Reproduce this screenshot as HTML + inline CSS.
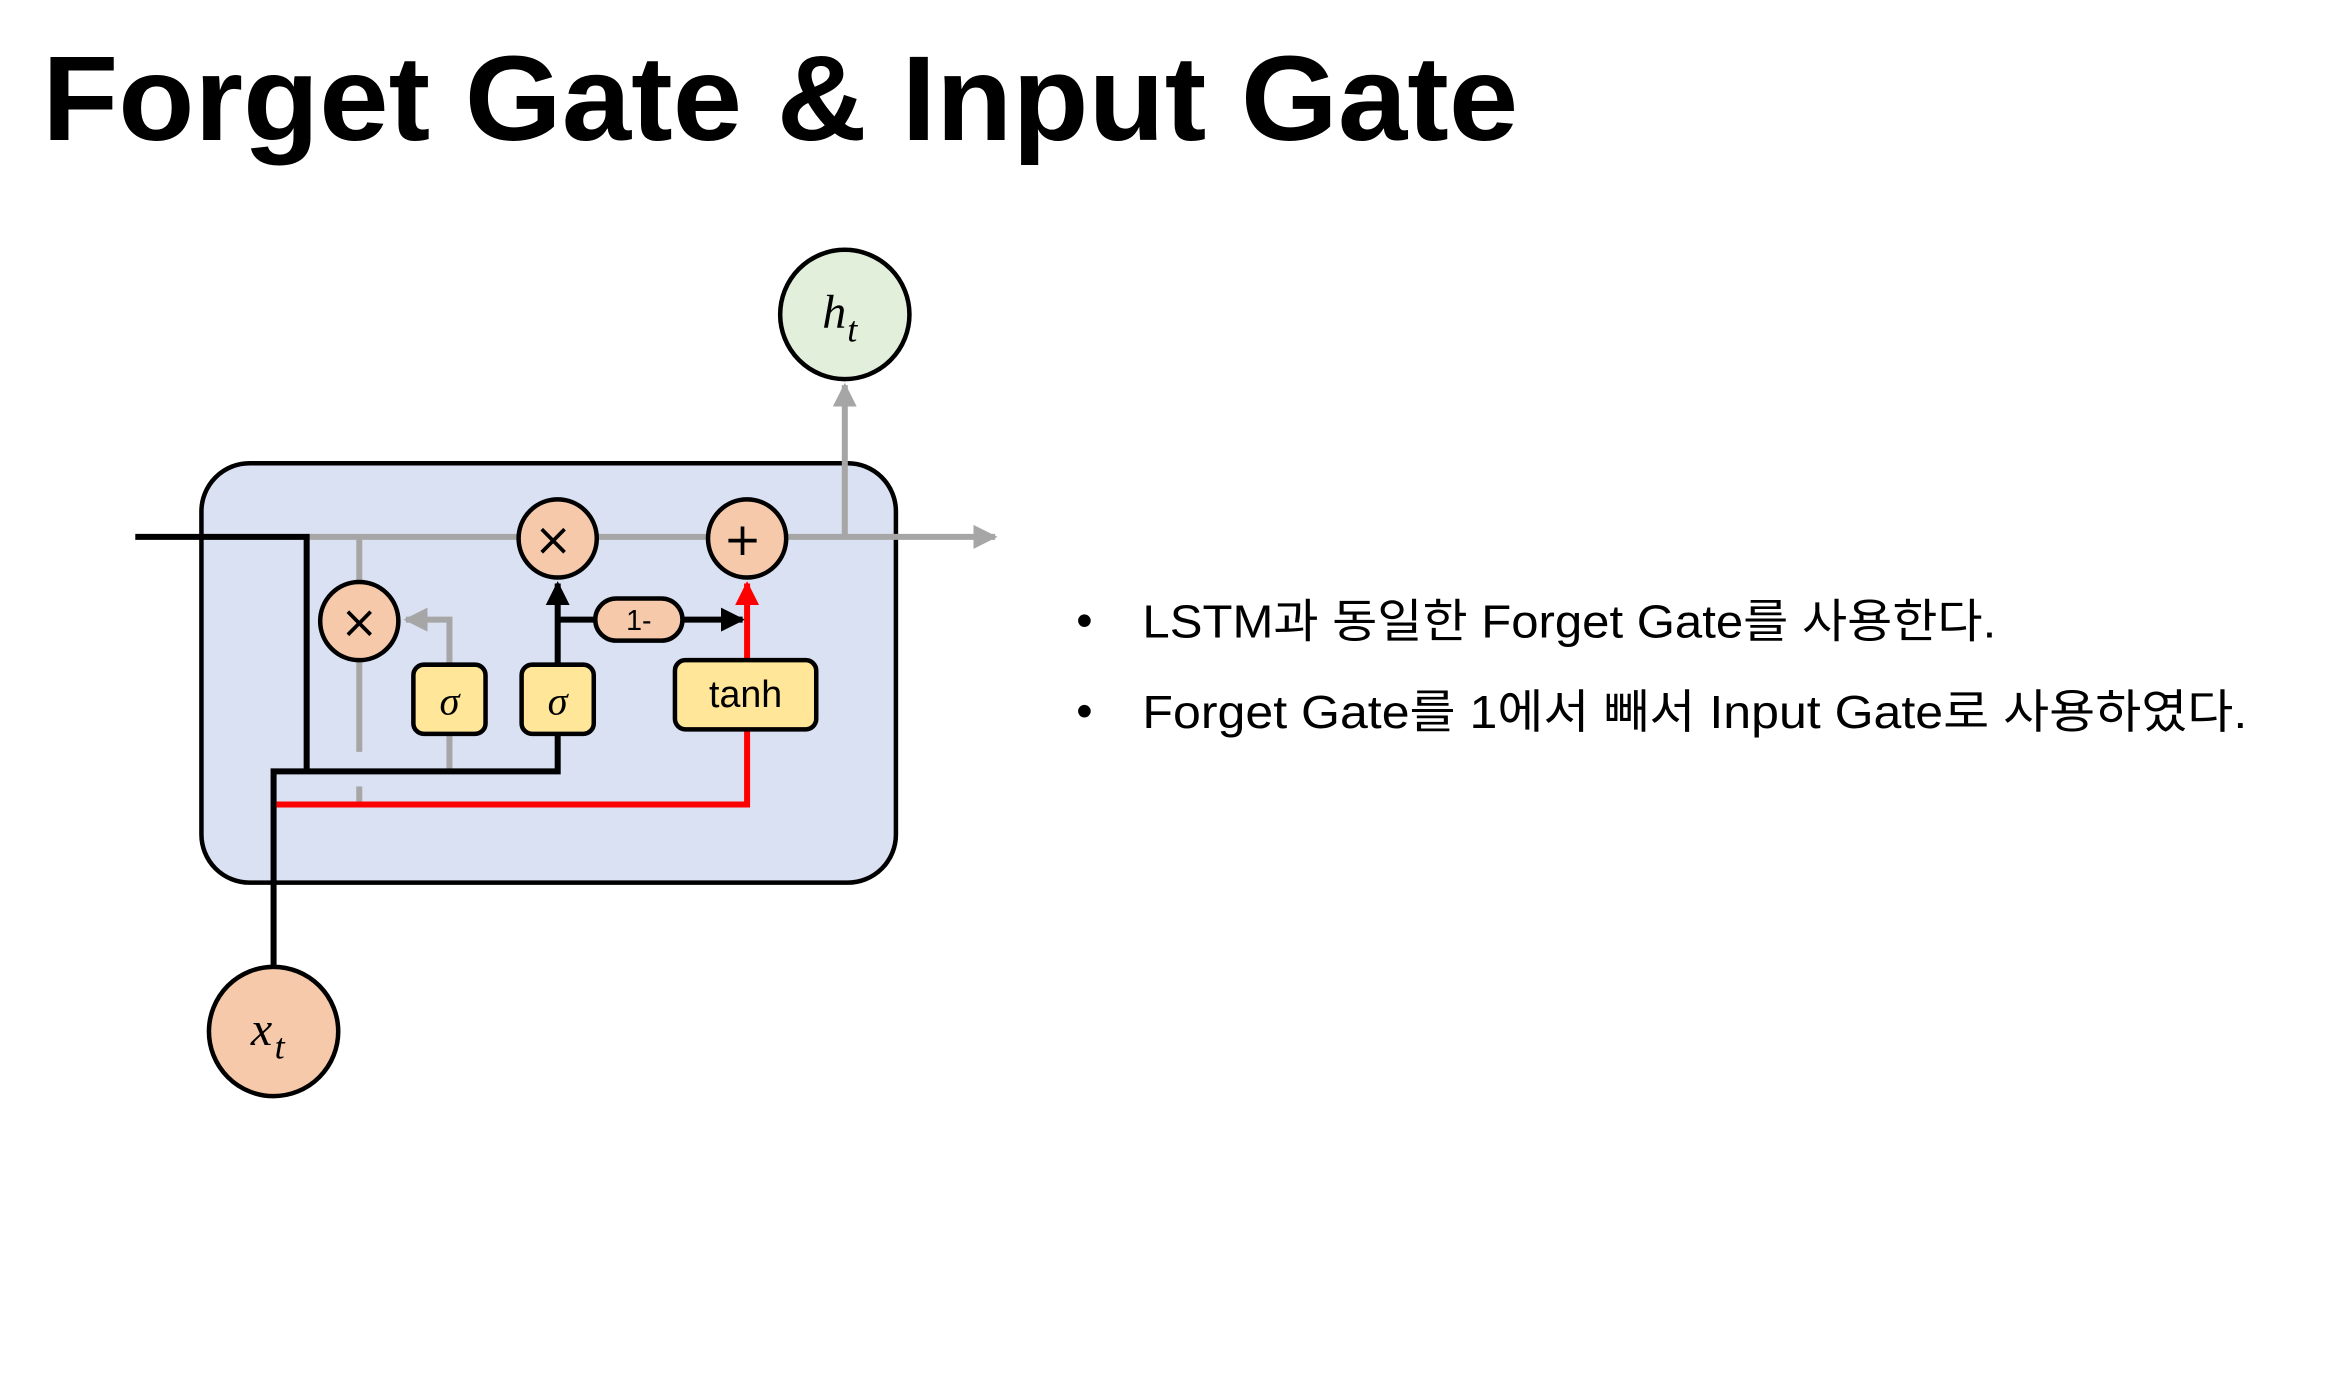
<!DOCTYPE html>
<html><head><meta charset="utf-8"><style>
html,body{margin:0;padding:0;background:#fff;width:2345px;height:1385px;overflow:hidden}
svg{display:block}
</style></head><body>
<svg width="2345" height="1385" viewBox="0 0 1560 921" xmlns="http://www.w3.org/2000/svg">
<defs>
<marker id="ag" viewBox="0 0 10 10" refX="9" refY="5" markerWidth="4" markerHeight="4" orient="auto" markerUnits="strokeWidth"><path d="M0,0 L10,5 L0,10 z" fill="#a6a6a6"/></marker>
<marker id="ab" viewBox="0 0 10 10" refX="9" refY="5" markerWidth="4" markerHeight="4" orient="auto" markerUnits="strokeWidth"><path d="M0,0 L10,5 L0,10 z" fill="#000"/></marker>
<marker id="ar" viewBox="0 0 10 10" refX="9" refY="5" markerWidth="4" markerHeight="4" orient="auto" markerUnits="strokeWidth"><path d="M0,0 L10,5 L0,10 z" fill="#ff0000"/></marker>
</defs>
<text x="28" y="93" font-family="Liberation Sans, sans-serif" font-weight="bold" font-size="80" textLength="982" lengthAdjust="spacingAndGlyphs">Forget Gate &amp; Input Gate</text>

<g transform="translate(-2,-2)">
<rect x="136" y="310" width="462" height="279" rx="32" fill="#dae1f3" stroke="#000" stroke-width="3"/>

<line x1="206" y1="359" x2="664" y2="359" stroke="#a6a6a6" stroke-width="4" marker-end="url(#ag)"/>
<line x1="564" y1="359" x2="564" y2="258" stroke="#a6a6a6" stroke-width="4" marker-end="url(#ag)"/>
<line x1="241" y1="359" x2="241" y2="502" stroke="#a6a6a6" stroke-width="4"/>
<line x1="241" y1="525" x2="241" y2="536" stroke="#a6a6a6" stroke-width="4"/>
<polyline points="301,515 301,414 272,414" fill="none" stroke="#a6a6a6" stroke-width="4" marker-end="url(#ag)"/>

<polyline points="92,359 206,359 206,515" fill="none" stroke="#000" stroke-width="4"/>
<polyline points="184,645 184,515 373,515 373,390" fill="none" stroke="#000" stroke-width="4" marker-end="url(#ab)"/>
<line x1="373" y1="414" x2="496" y2="414" stroke="#000" stroke-width="4" marker-end="url(#ab)"/>

<polyline points="186,537 499,537 499,390" fill="none" stroke="#ff0000" stroke-width="4" marker-end="url(#ar)"/>

<circle cx="241" cy="415" r="26" fill="#f5c9aa" stroke="#000" stroke-width="3"/>
<text x="241" y="426" font-family="DejaVu Sans, sans-serif" font-size="30" text-anchor="middle">×</text>
<circle cx="373" cy="360" r="26" fill="#f5c9aa" stroke="#000" stroke-width="3"/>
<text x="370" y="371" font-family="DejaVu Sans, sans-serif" font-size="30" text-anchor="middle">×</text>
<circle cx="499" cy="360" r="26" fill="#f5c9aa" stroke="#000" stroke-width="3"/>
<text x="496" y="371" font-family="DejaVu Sans, sans-serif" font-size="30" text-anchor="middle">+</text>

<rect x="277" y="444" width="48" height="46" rx="7" fill="#ffe699" stroke="#000" stroke-width="3"/>
<text x="301" y="477" font-family="Liberation Serif, serif" font-style="italic" font-size="27" text-anchor="middle">σ</text>
<rect x="349" y="444" width="48" height="46" rx="7" fill="#ffe699" stroke="#000" stroke-width="3"/>
<text x="373" y="477" font-family="Liberation Serif, serif" font-style="italic" font-size="27" text-anchor="middle">σ</text>
<rect x="451" y="441" width="94" height="46" rx="7" fill="#ffe699" stroke="#000" stroke-width="3"/>
<text x="498" y="472" font-family="Liberation Sans, sans-serif" font-size="25" text-anchor="middle">tanh</text>
<rect x="398" y="400" width="58" height="28" rx="14" fill="#f5c9aa" stroke="#000" stroke-width="3"/>
<text x="427" y="421" font-family="Liberation Sans, sans-serif" font-size="19" text-anchor="middle">1-</text>

<circle cx="564" cy="211" r="43" fill="#e2efda" stroke="#000" stroke-width="3"/>
<text x="557" y="220" font-family="Liberation Serif, serif" font-style="italic" font-size="32" text-anchor="middle">h</text>
<text x="569" y="229" font-family="Liberation Serif, serif" font-style="italic" font-size="24" text-anchor="middle">t</text>
<circle cx="184" cy="688" r="43" fill="#f5c9aa" stroke="#000" stroke-width="3"/>
<text x="176" y="697" font-family="Liberation Serif, serif" font-style="italic" font-size="32" text-anchor="middle">x</text>
<text x="188" y="706" font-family="Liberation Serif, serif" font-style="italic" font-size="24" text-anchor="middle">t</text>
</g>

<g font-family="Liberation Sans, 'Noto Sans CJK KR', sans-serif" font-size="31">
<text x="716" y="423">•</text>
<text x="760" y="424" textLength="568" lengthAdjust="spacingAndGlyphs">LSTM과 동일한 Forget Gate를 사용한다.</text>
<text x="716" y="483">•</text>
<text x="760" y="484" textLength="735" lengthAdjust="spacingAndGlyphs">Forget Gate를 1에서 빼서 Input Gate로 사용하였다.</text>
</g>
</svg>
</body></html>
